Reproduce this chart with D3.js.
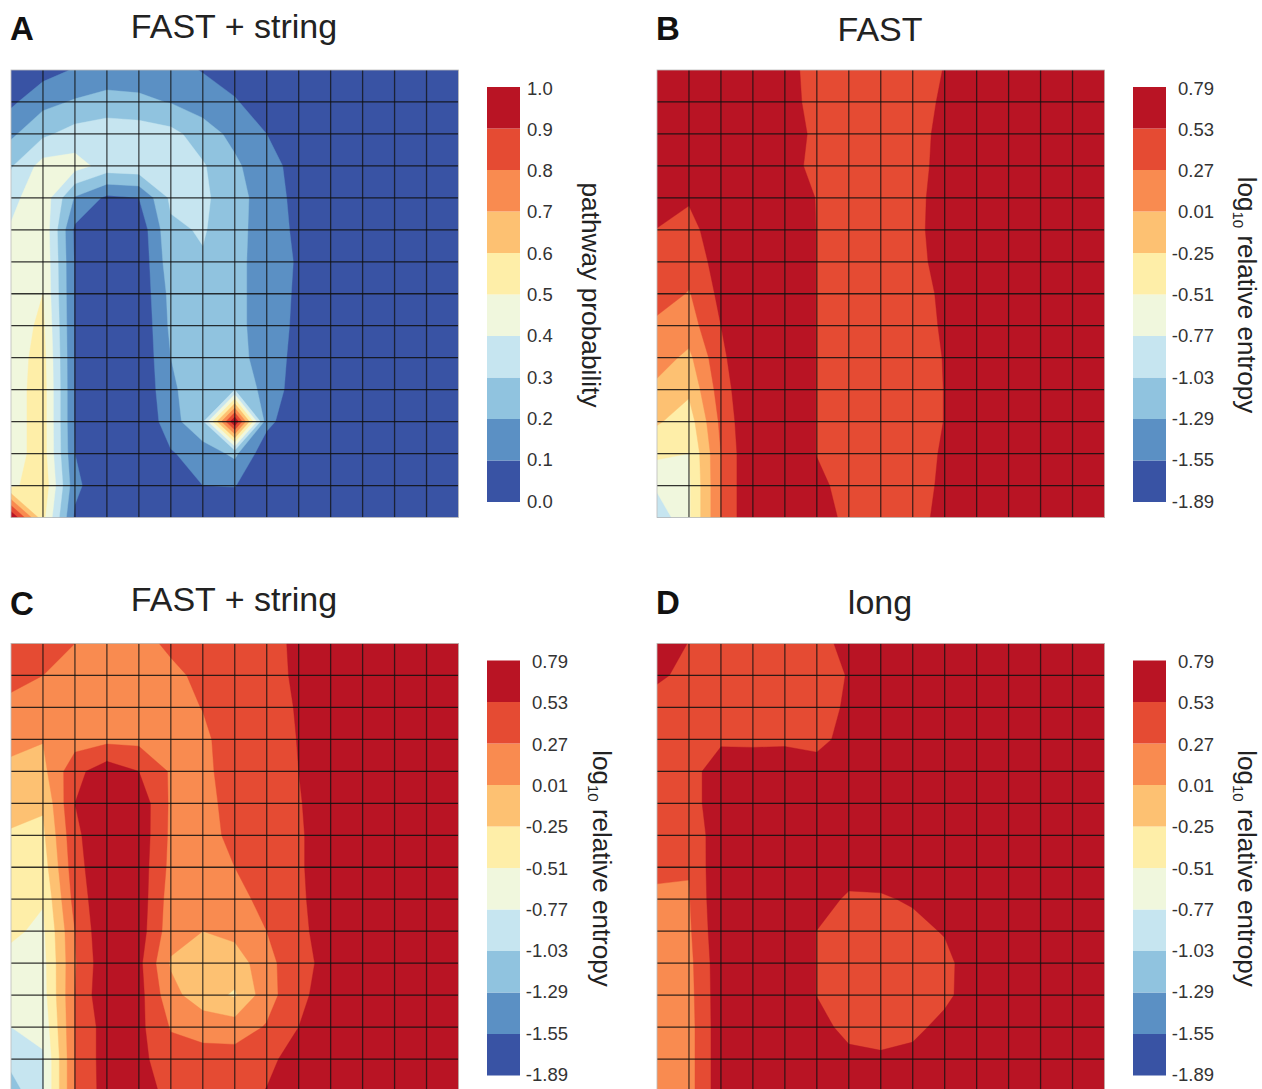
<!DOCTYPE html>
<html>
<head>
<meta charset="utf-8">
<script src="https://d3js.org/d3.v7.min.js"></script>
<style>
html, body {margin: 0; padding: 0; background: white; overflow: hidden;}
text {font-family: "Liberation Sans", Arial, sans-serif;}
</style>
</head>
<body>
<svg id="chart" width="1262" height="1089"></svg>
<script>
// contour bands, low to high
var bandColors = ["#3953a4","#5b90c4","#90c3df","#c6e5f0","#f0f7dd","#feeea8","#fdc172","#f98b50","#e54b33","#b91424"];
var probLevels = [0,0.1,0.2,0.3,0.4,0.5,0.6,0.7,0.8,0.9,1.0];
var probLabels = ["0.0","0.1","0.2","0.3","0.4","0.5","0.6","0.7","0.8","0.9","1.0"];
var entropyLevels = [-1.89,-1.55,-1.29,-1.03,-0.77,-0.51,-0.25,0.01,0.27,0.53,0.79];
var entropyLabels = ["-1.89","-1.55","-1.29","-1.03","-0.77","-0.51","-0.25","0.01","0.27","0.53","0.79"];

// node values, top row first
var gridA = [
[.03,.06,.108,.15,.15,.13,.095,.05,0,0,0,0,0,0,0],
[.08,.17,.21,.23,.22,.195,.15,.11,.04,0,0,0,0,0,0],
[.18,.28,.34,.37,.36,.33,.25,.17,.10,.03,0,0,0,0,0],
[.29,.44,.44,.36,.37,.37,.31,.22,.13,.07,0,0,0,0,0],
[.37,.47,.19,.08,.10,.32,.32,.24,.15,.07,0,0,0,0,0],
[.41,.48,.08,0,.03,.28,.31,.235,.15,.08,0,0,0,0,0],
[.43,.49,.09,0,.02,.26,.29,.23,.15,.09,0,0,0,0,0],
[.44,.50,.09,0,.02,.23,.28,.23,.15,.085,0,0,0,0,0],
[.45,.52,.09,0,.01,.22,.27,.23,.15,.08,0,0,0,0,0],
[.45,.54,.09,0,.01,.20,.27,.24,.15,.07,0,0,0,0,0],
[.45,.55,.09,0,.01,.18,.27,.295,.16,.05,0,0,0,0,0],
[.45,.55,.09,0,0,.16,.28,1.0,.13,.02,0,0,0,0,0],
[.45,.55,.10,0,0,.09,.15,.22,.03,0,0,0,0,0,0],
[.47,.58,.13,0,0,0,.10,.105,0,0,0,0,0,0,0],
[1.0,.53,.08,0,0,0,0,0,0,0,0,0,0,0,0]
];
var gridB = [
[.7,.7,.7,.7,.6,.45,.42,.42,.40,.54,.75,.75,.75,.75,.75],
[.7,.7,.7,.7,.62,.45,.42,.42,.42,.57,.75,.75,.75,.75,.75],
[.7,.7,.7,.7,.6,.5,.42,.42,.42,.61,.75,.75,.75,.75,.75],
[.7,.7,.7,.7,.6,.48,.42,.42,.42,.63,.75,.75,.75,.75,.75],
[.7,.56,.7,.7,.7,.52,.42,.42,.42,.68,.75,.75,.75,.75,.75],
[.52,.44,.7,.7,.7,.525,.42,.42,.42,.7,.75,.75,.75,.75,.75],
[.47,.40,.62,.7,.7,.525,.42,.42,.42,.65,.75,.75,.75,.75,.75],
[.42,.25,.60,.7,.7,.525,.42,.42,.42,.58,.75,.75,.75,.75,.75],
[.2,.15,.53,.7,.7,.525,.42,.42,.42,.56,.75,.75,.75,.75,.75],
[.12,-.05,.47,.79,.7,.525,.42,.42,.42,.54,.75,.75,.75,.75,.75],
[-.05,-.2,.40,.79,.7,.525,.42,.42,.42,.535,.75,.75,.75,.75,.75],
[-.22,-.38,.33,.79,.7,.525,.42,.42,.42,.535,.75,.75,.75,.75,.75],
[-.46,-.51,.27,.79,.7,.525,.42,.42,.42,.56,.75,.75,.75,.75,.75],
[-.72,-.55,.27,.79,.7,.57,.47,.42,.42,.58,.75,.75,.75,.75,.75],
[-.95,-.55,.27,.79,.7,.64,.47,.42,.42,.62,.75,.75,.75,.75,.75]
];
var gridC = [
[.4,.32,.27,.2,.2,.31,.32,.38,.38,.62,.75,.75,.75,.75,.75],
[.35,.27,.2,.2,.2,.22,.32,.38,.38,.6,.75,.75,.75,.75,.75],
[.2,.2,.2,.2,.2,.15,.28,.4,.38,.56,.75,.75,.75,.75,.75],
[.08,.02,.15,.2,.2,.13,.2,.45,.4,.54,.75,.75,.75,.75,.75],
[-.05,-.06,.45,.68,.53,.24,.2,.4,.42,.53,.75,.75,.75,.75,.75],
[-.18,-.22,.53,.75,.7,.23,.18,.37,.42,.5,.77,.75,.75,.75,.75],
[-.27,-.3,.47,.75,.7,.22,.17,.34,.42,.48,.75,.75,.75,.75,.75],
[-.33,-.38,.43,.75,.68,.2,.12,.27,.42,.48,.75,.75,.75,.75,.75],
[-.42,-.49,.37,.75,.68,.15,.08,.15,.38,.45,.78,.75,.75,.75,.75],
[-.47,-.56,.27,.77,.66,.12,.01,.08,.27,.47,.65,.75,.75,.75,.75],
[-.58,-.6,.25,.73,.6,-.02,-.15,-.12,.16,.5,.56,.75,.75,.75,.75],
[-.62,-.62,.27,.76,.62,.1,-.15,-.28,.16,.47,.65,.75,.75,.75,.75],
[-.77,-.7,.27,.66,.6,.25,.18,.14,.29,.53,.7,.75,.75,.75,.75],
[-.95,-.8,.27,.66,.6,.38,.36,.38,.46,.65,.75,.75,.75,.75,.75],
[-1.15,-.8,.27,.65,.62,.47,.42,.44,.54,.7,.75,.75,.75,.75,.75]
];
var gridD = [
[.7,.52,.45,.45,.45,.45,.6,.7,.7,.7,.7,.7,.7,.7,.7],
[.58,.45,.45,.45,.45,.45,.54,.7,.7,.7,.7,.7,.7,.7,.7],
[.4,.45,.45,.45,.45,.42,.57,.7,.7,.7,.7,.7,.7,.7,.7],
[.4,.45,.5,.5,.51,.47,.6,.7,.7,.7,.7,.7,.7,.7,.7],
[.4,.46,.63,.62,.6,.62,.7,.7,.7,.7,.7,.7,.7,.7,.7],
[.4,.46,.63,.7,.7,.7,.7,.7,.7,.7,.7,.7,.7,.7,.7],
[.4,.44,.61,.7,.7,.7,.7,.7,.7,.7,.7,.7,.7,.7,.7],
[.4,.28,.75,.7,.7,.7,.7,.65,.7,.7,.7,.7,.7,.7,.7],
[.15,.255,.75,.7,.7,.7,.47,.5,.56,.7,.7,.7,.7,.7,.7],
[.1,.23,.73,.7,.7,.525,.45,.45,.45,.55,.7,.7,.7,.7,.7],
[.1,.2,.7,.7,.7,.525,.45,.45,.45,.45,.7,.7,.7,.7,.7],
[.1,.185,.695,.7,.7,.525,.45,.45,.45,.46,.7,.7,.7,.7,.7],
[.1,.172,.692,.7,.7,.62,.45,.45,.45,.62,.7,.7,.7,.7,.7],
[.1,.172,.692,.7,.7,.75,.6,.56,.62,.7,.7,.7,.7,.7,.7],
[.1,.172,.692,.7,.7,.7,.7,.7,.7,.7,.7,.7,.7,.7,.7]
];

var panels = [
  {id:"A", grid:gridA, levels:probLevels, labels:probLabels, title:"FAST + string", left:11, top:70, titleY:38, letterY:40, tickX:527, anchor:"start", axisX:591, axis:"prob"},
  {id:"B", grid:gridB, levels:entropyLevels, labels:entropyLabels, title:"FAST", left:657, top:70, titleY:41, letterY:40, tickX:1214, anchor:"end", axisX:1247, axis:"entropy"},
  {id:"C", grid:gridC, levels:entropyLevels, labels:entropyLabels, title:"FAST + string", left:11, top:643.5, titleY:611, letterY:615, tickX:568, anchor:"end", axisX:601.5, axis:"entropy"},
  {id:"D", grid:gridD, levels:entropyLevels, labels:entropyLabels, title:"long", left:657, top:643.5, titleY:614, letterY:614, tickX:1214, anchor:"end", axisX:1247, axis:"entropy"}
];

var svg = d3.select("#chart");
var size = 447.5;
var n = 15;

panels.forEach(function(p) {
  var x = d3.scaleLinear().domain([0, n - 1]).range([p.left, p.left + size]);
  var y = d3.scaleLinear().domain([0, n - 1]).range([p.top, p.top + size]);

  // d3.contours puts node i at i + 0.5
  var path = d3.geoPath(d3.geoTransform({
    point: function(a, b) { this.stream.point(x(a - 0.5), y(b - 0.5)); }
  }));

  svg.append("clipPath").attr("id", "clip" + p.id)
    .append("rect").attr("x", p.left).attr("y", p.top).attr("width", size).attr("height", size);

  var contours = d3.contours().size([n, n]).smooth(true)
    .thresholds(p.levels.slice(0, 10))(p.grid.flat());

  var g = svg.append("g").attr("clip-path", "url(#clip" + p.id + ")");
  g.selectAll("path").data(contours).enter().append("path")
    .attr("d", path)
    .attr("fill", function(d, i) { return bandColors[i]; })
    .attr("stroke", function(d, i) { return bandColors[i]; })
    .attr("stroke-width", 0.4);

  // grid lines
  g.selectAll(".v").data(d3.range(1, n - 1)).enter().append("line")
    .attr("x1", x).attr("x2", x).attr("y1", p.top).attr("y2", p.top + size)
    .attr("stroke", "#111").attr("stroke-width", 1.3).attr("stroke-opacity", 0.75);
  g.selectAll(".h").data(d3.range(1, n - 1)).enter().append("line")
    .attr("y1", y).attr("y2", y).attr("x1", p.left).attr("x2", p.left + size)
    .attr("stroke", "#111").attr("stroke-width", 1.3).attr("stroke-opacity", 0.85);

  svg.append("rect").attr("x", p.left).attr("y", p.top).attr("width", size).attr("height", size)
    .attr("fill", "none").attr("stroke", "#bbb").attr("stroke-width", 0.8);

  // colour bar
  var barLeft = p.left + 476;
  var barTop = p.top + 17;
  var barY = d3.scaleLinear().domain([0, 10]).range([barTop + 415, barTop]);
  var tickY = d3.scaleLinear().domain([0, 10]).range([barTop + 414, barTop + 1]);

  svg.append("g").selectAll("rect").data(bandColors).enter().append("rect")
    .attr("x", barLeft).attr("width", 33)
    .attr("y", function(d, i) { return barY(i + 1); })
    .attr("height", function(d, i) { return barY(i) - barY(i + 1); })
    .attr("fill", function(d) { return d; });

  svg.append("g").selectAll("text").data(p.labels).enter().append("text")
    .attr("x", p.tickX)
    .attr("y", function(d, i) { return tickY(i) + 6.5; })
    .attr("text-anchor", p.anchor)
    .attr("font-size", 18.5)
    .attr("fill", "#333")
    .text(function(d) { return d; });

  // rotated bar label
  var label = svg.append("text")
    .attr("transform", "translate(" + (p.axisX - 9) + "," + (barTop + 208) + ") rotate(90)")
    .attr("text-anchor", "middle")
    .attr("fill", "#222");
  if (p.axis == "prob") {
    label.attr("font-size", 26.3).text("pathway probability");
  } else {
    label.attr("font-size", 26);
    label.append("tspan").text("log");
    label.append("tspan").attr("font-size", 15).attr("dy", 5).text("10");
    label.append("tspan").attr("dy", -5).text(" relative entropy");
  }

  // title and panel letter
  svg.append("text")
    .attr("x", p.left + 223).attr("y", p.titleY)
    .attr("text-anchor", "middle").attr("font-size", 34).attr("fill", "#222")
    .text(p.title);
  svg.append("text")
    .attr("x", p.left - 1).attr("y", p.letterY)
    .attr("font-size", 33).attr("font-weight", "bold").attr("fill", "#111")
    .text(p.id);
});
</script>
</body>
</html>
